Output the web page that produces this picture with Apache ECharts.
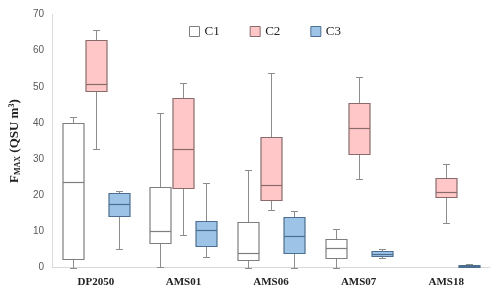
<!DOCTYPE html>
<html><head><meta charset="utf-8">
<script src="https://cdn.jsdelivr.net/npm/echarts@6/dist/echarts.min.js"></script>
<style>html,body{margin:0;padding:0;background:#fff}#c{width:500px;height:294px}</style>
</head><body><div id="c"></div>
<script>
const categories = ['DP2050', 'AMS01', 'AMS06', 'AMS07', 'AMS18'];
const yTicks = [0, 10, 20, 30, 40, 50, 60, 70];
// [min, Q1, median, Q3, max]
const c1 = [
  [0, 2.4, 23.6, 39.9, 41.7],
  [0.3, 6.9, 10.2, 22.4, 42.9],
  [0, 2.1, 4.0, 12.7, 26.9],
  [0, 2.7, 5.4, 7.9, 10.6],
  null
];
const c2 = [
  [32.8, 48.9, 50.7, 62.9, 65.6],
  [9.1, 22.1, 32.7, 47.0, 51.2],
  [16.0, 18.6, 22.9, 36.2, 53.9],
  [24.4, 31.4, 38.6, 45.6, 52.6],
  [12.4, 19.5, 20.8, 24.9, 28.8]
];
const c3 = [
  [5.3, 14.3, 17.5, 20.7, 21.2],
  [3.0, 6.1, 10.4, 13.0, 23.3],
  [0, 4.1, 8.7, 14.0, 15.7],
  [2.8, 3.3, 3.9, 4.5, 5.1],
  [0.1, 0.2, 0.5, 0.7, 0.9]
];
const chart = echarts.init(document.getElementById('c'), null, {renderer: 'canvas'});
const WHISKER = '#8c8c8c';
const BOXW = 21, CAP = 7;
function mk(name, arr, fill, border, offset) {
  const data = [];
  arr.forEach((v, i) => { if (v) data.push([i].concat(v)); });
  return {
    name, type: 'custom', data,
    encode: {x: 0, y: [1, 2, 3, 4, 5]},
    itemStyle: {color: fill, borderColor: border, borderWidth: 1},
    renderItem: function (params, api) {
      const x = api.value(0);
      const p = [1, 2, 3, 4, 5].map(k => api.coord([x, api.value(k)]));
      const cx = Math.round(p[0][0] + offset) + 0.5;
      const y = p.map(q => Math.round(q[1]) + 0.5);
      const l = cx - BOXW / 2, r = cx + BOXW / 2;
      const ls = {stroke: WHISKER, lineWidth: 1};
      return {
        type: 'group',
        children: [
          {type: 'line', shape: {x1: cx, y1: y[0], x2: cx, y2: y[1]}, style: ls},
          {type: 'line', shape: {x1: cx, y1: y[3], x2: cx, y2: y[4]}, style: ls},
          {type: 'line', shape: {x1: cx - CAP / 2, y1: y[4], x2: cx + CAP / 2, y2: y[4]}, style: ls},
          {type: 'line', shape: {x1: cx - CAP / 2, y1: y[0], x2: cx + CAP / 2, y2: y[0]}, style: ls},
          {type: 'rect', shape: {x: l, y: y[3], width: BOXW, height: y[1] - y[3]},
            style: {fill: fill, stroke: border, lineWidth: 1.2}},
          {type: 'line', shape: {x1: l, y1: y[2], x2: r, y2: y[2]}, style: {stroke: border, lineWidth: 1.2}}
        ]
      };
    }
  };
}
chart.setOption({
  animation: false,
  legend: {
    top: 20, left: 184, itemWidth: 10, itemHeight: 10, itemGap: 30,
    icon: 'rect',
    textStyle: {fontFamily: 'Liberation Serif', fontSize: 13, color: '#222'},
    data: [
      {name: 'C1', itemStyle: {color: '#ffffff', borderColor: '#7f7f7f', borderWidth: 1}},
      {name: 'C2', itemStyle: {color: '#ffc7c7', borderColor: '#8a6b6b', borderWidth: 1}},
      {name: 'C3', itemStyle: {color: '#9dc3e6', borderColor: '#4d6f8f', borderWidth: 1}}
    ]
  },
  grid: {left: 44, right: 10, top: 14.5, bottom: 26.3},
  xAxis: {
    type: 'category', data: categories,
    axisLine: {lineStyle: {color: '#d9d9d9'}},
    axisTick: {show: false},
    axisLabel: {fontFamily: 'Liberation Serif', fontWeight: 'bold', fontSize: 11, color: '#222', margin: 9}
  },
  yAxis: {
    type: 'value', min: 0, max: 70, interval: 10,
    axisLine: {show: true, lineStyle: {color: '#d9d9d9'}},
    axisTick: {show: false},
    splitLine: {show: false},
    axisLabel: {fontFamily: 'Liberation Sans', fontSize: 10, color: '#595959', margin: 8},
    name: '{b|F}{s|MAX}{b| (QSU m}{p|3}{b|)}',
    nameLocation: 'middle', nameRotate: 90, nameGap: 24,
    nameTextStyle: {
      rich: {
        b: {fontFamily: 'Liberation Serif', fontWeight: 'bold', fontSize: 13, color: '#222', verticalAlign: 'middle'},
        s: {fontFamily: 'Liberation Serif', fontWeight: 'bold', fontSize: 8, color: '#222', verticalAlign: 'bottom', padding: [6, 0, 0, 0]},
        p: {fontFamily: 'Liberation Serif', fontWeight: 'bold', fontSize: 8, color: '#222', verticalAlign: 'top', padding: [0, 0, 6, 0]}
      }
    }
  },
  series: [
    mk('C1', c1, '#ffffff', '#7f7f7f', -23),
    mk('C2', c2, '#ffc7c7', '#8a6b6b', 0),
    mk('C3', c3, '#9dc3e6', '#4d6f8f', 23)
  ]
});
</script></body></html>
